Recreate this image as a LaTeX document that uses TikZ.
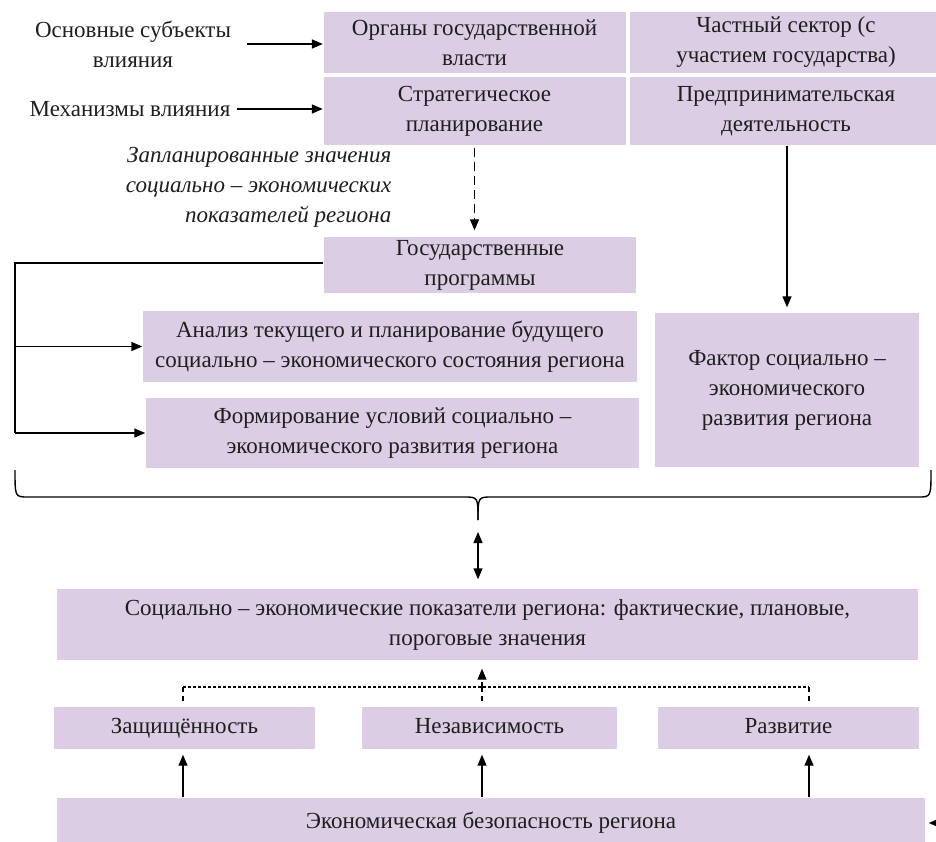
\documentclass[tikz,border=0pt]{standalone}
\usepackage{fontspec}
\setmainfont{Liberation Serif}
\usepackage{tikz}
\usetikzlibrary{positioning, arrows.meta, calc}
\usepackage{xcolor}
\definecolor{boxlilac}{HTML}{DACDE4}
\definecolor{inkgrey}{HTML}{1E1E1E}

\begin{document}
\begin{tikzpicture}[x=1pt, y=-1pt, line width=1.4pt,
    every node/.style={font=\fontsize{23}{30}\selectfont, text=inkgrey, align=center, inner sep=0pt},
    box/.style={fill=boxlilac},
    onebox/.style={box, text height=16pt, text depth=5pt},
    arr/.style={-{Triangle[length=11pt,width=9pt]}},
    arrboth/.style={{Triangle[length=11pt,width=9pt]}-{Triangle[length=11pt,width=9pt]}},
    dashline/.style={dash pattern=on 9pt off 5pt},
    dotline/.style={line width=1.2pt, dash pattern=on 3pt off 2pt},
    stubline/.style={line width=1.2pt, dash pattern=on 5pt off 4pt}]
  \useasboundingbox (0,0) rectangle (936,842);
  \clip (0,0) rectangle (936,842);

  \node[box, minimum width=302pt, minimum height=61pt] (organ) at (474.5,42.5) {Органы государственной\\власти};
  \node[box, minimum width=312pt, minimum height=61pt] (chast) at (786,42.5) {Частный сектор (с\\участием государства)};
  \node[box, minimum width=302pt, minimum height=68pt] (strat) at (474.5,111) {Стратегическое\\планирование};
  \node[box, minimum width=312pt, minimum height=68pt] (predp) at (786,111) {Предпринимательская\\деятельность};

  \node (osn) at (133,44) {Основные субъекты\\влияния};
  \node (mech) at (130,109) {Механизмы влияния};
  \node[anchor=east, align=right, font=\fontsize{23}{30}\selectfont\itshape] (plan) at (392,187)
    {Запланированные значения\\социально – экономических\\показателей региона};

  \node[box, minimum width=312pt, minimum height=56pt] (gosprog) at (480,265) {Государственные\\программы};
  \node[box, minimum width=494pt, minimum height=71pt] (analiz) at (390,346.5) {Анализ текущего и планирование будущего\\социально – экономического состояния региона};
  \node[box, minimum width=493pt, minimum height=70pt] (form) at (392.5,433) {Формирование условий социально –\\экономического развития региона};
  \node[box, minimum width=264pt, minimum height=154pt] (faktor) at (787,390) {Фактор социально –\\экономического\\развития региона};

  \node[box, minimum width=861pt, minimum height=71pt] (pokaz) at (487.5,624.5) {Социально – экономические показатели региона: фактические, плановые,\\пороговые значения};
  \node[onebox, minimum width=261pt, minimum height=42pt] (zasch) at (184.5,728) {Защищённость};
  \node[onebox, minimum width=255pt, minimum height=42pt] (nezav) at (489.5,728) {Независимость};
  \node[onebox, minimum width=261pt, minimum height=42pt] (razv) at (788.5,728) {Развитие};
  \node[onebox, minimum width=868pt, minimum height=50pt] (ekbez) at (491,823) {Экономическая безопасность региона};

  \draw[arr] ([xshift=15pt]osn.east) -- (osn.east -| organ.west);
  \draw[arr] ([xshift=6pt]mech.east) -- (mech.east -| strat.west);
  \draw[arr, dashline, shorten <=2pt, shorten >=6pt] (strat.south) -- (strat.south |- gosprog.north);
  \draw[arr, shorten >=5pt] (faktor.north |- predp.south) -- (faktor.north);

  \coordinate (lft) at (15,263);
  \draw (gosprog.west |- lft) -- (lft) -- (lft |- form.west);
  \draw[arr] (lft |- analiz.west) -- (analiz.west);
  \draw[arr] (lft |- form.west) -- (form.west);

  \coordinate (brtip) at (478,520);
  \draw (15,470) .. controls (15,497) .. (28,497) -- (464,497) .. controls (478,497) .. (brtip);
  \draw (931,470) .. controls (931,497) .. (918,497) -- (492,497) .. controls (478,497) .. (brtip);
  \draw[arrboth, shorten <=12pt, shorten >=9pt] (brtip) -- (brtip |- pokaz.north);

  \coordinate (d1) at (183,687);
  \coordinate (d2) at (482,687);
  \coordinate (d3) at (809,687);
  \draw[dotline] (d1) -- (d3);
  \draw[stubline, shorten >=4pt] (d1) -- (d1 |- zasch.north);
  \draw[stubline, shorten >=4pt] (d2) -- (d2 |- nezav.north);
  \draw[stubline, shorten >=4pt] (d3) -- (d3 |- razv.north);
  \draw[arr, stubline, shorten >=8pt] (d2) -- (d2 |- pokaz.south);

  \draw[arr, shorten >=5pt] (d1 |- ekbez.north) -- (d1 |- zasch.south);
  \draw[arr, shorten >=5pt] (d2 |- ekbez.north) -- (d2 |- nezav.south);
  \draw[arr, shorten >=5pt] (d3 |- ekbez.north) -- (d3 |- razv.south);

  \coordinate (rin) at (975,823);
  \draw[arr, shorten >=3pt] (rin) -- (ekbez.east);
\end{tikzpicture}
\end{document}
